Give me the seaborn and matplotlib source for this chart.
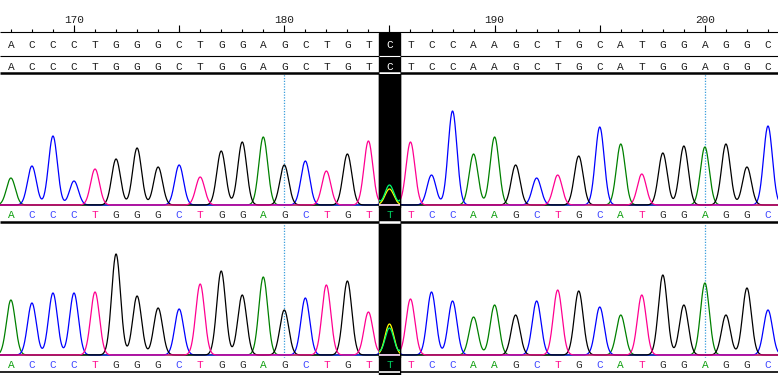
import numpy as np
import pandas as pd
import matplotlib
matplotlib.use('Agg')
import matplotlib.pyplot as plt
from matplotlib.patches import Rectangle
import seaborn as sns

sns.set_style('white')
plt.rcParams['font.family'] = ['Liberation Mono', 'DejaVu Sans Mono']

# ── data ──────────────────────────────────────────────────────────────
positions = list(range(167, 204))
reference = list('ACCCTGGGCTGGAGCTGTCTCCAAGCTGCATGGAGGC')
called = list('ACCCTGGGCTGGAGCTGTTTCCAAGCTGCATGGAGGC')
heights_1 = [27, 39, 69, 24, 36, 46, 57, 38, 40, 28, 54, 63, 68, 40, 44, 34, 51, 64, 20,
             63, 30, 94, 51, 68, 40, 27, 30, 49, 78, 61, 31, 52, 59, 58, 61, 38, 79]
heights_2 = [55, 52, 62, 62, 63, 101, 59, 47, 46, 71, 84, 60, 78, 45, 57, 70, 74, 43, 27,
             56, 63, 54, 38, 50, 40, 54, 65, 64, 48, 40, 60, 80, 50, 72, 40, 67, 45]
# secondary (heterozygous) peak under the highlighted base
minor_pos = [185]
minor_base = ['C']
minor_1 = [16]
minor_2 = [31]
highlight = 185
ruler_labels = [170, 180, 190, 200]
grid_marks = [180, 200]

colors = {'A': '#008000', 'C': '#0000ff', 'G': '#000000', 'T': '#ff0090'}
inverted = {'A': '#ff7fff', 'C': '#ffff00', 'G': '#ffffff', 'T': '#00ff6f'}
label_colors = {'A': '#10a010', 'C': '#4048ff', 'G': '#303030', 'T': '#ff1090'}
SIGMA = 0.21

W, H = 778, 375
XMIN, XMAX = 170 - 74 / 21.03, 170 + 704 / 21.03


def trace_frame(heights, minor):
    xs = np.linspace(XMIN - 0.5, XMAX + 0.5, 3000)
    rows = []
    for b in 'ACGT':
        y = np.zeros_like(xs)
        for p, c, h in zip(positions, called, heights):
            if c == b:
                y += h * np.exp(-0.5 * ((xs - p) / SIGMA) ** 2)
        for p, c, h in zip(minor_pos, minor_base, minor):
            if c == b:
                y += h * np.exp(-0.5 * ((xs - p) / SIGMA) ** 2)
        rows.append(pd.DataFrame({'x': xs, 'y': y, 'base': b}))
    return pd.concat(rows, ignore_index=True)


fig = plt.figure(figsize=(W / 100, H / 100), dpi=100)
fig.patch.set_facecolor('white')

# background axes in pixel rows
bg = fig.add_axes([0, 0, 1, 1])
bg.set_xlim(XMIN, XMAX)
bg.set_ylim(H, 0)
bg.axis('off')

bg.add_patch(Rectangle((highlight - 0.5, 33), 1, H - 33, color='black', zorder=1))

# ruler
ticks = positions
bg.vlines(ticks, 29, 32, color='black', lw=0.8, zorder=2)
bg.vlines([p for p in ticks if p % 5 == 0], 25, 32, color='black', lw=0.8, zorder=2)
for v in ruler_labels:
    bg.text(v, 23, str(v), ha='center', va='baseline', fontsize=8, color='#202020')

# horizontal rules (white where they cross the highlight)
for y, lw in [(32, 0.8), (55.5, 0.8), (72.5, 1.8), (222, 1.8), (372, 1.2)]:
    bg.hlines(y, XMIN, XMAX, color='black', lw=lw, zorder=2)
    if y > 33:
        bg.hlines(y, highlight - 0.5, highlight + 0.5, color='white', lw=lw, zorder=3)

# reference rows
for p, b in zip(positions, reference):
    c = 'white' if p == highlight else '#1e1e1e'
    bg.text(p, 48, b, ha='center', va='baseline', fontsize=8, color=c, zorder=4)
    bg.text(p, 69.5, b, ha='center', va='baseline', fontsize=8, color=c, zorder=4)

# base-call rows under each trace
for p, b in zip(positions, called):
    c = '#00d060' if p == highlight else label_colors[b]
    bg.text(p, 218.5, b, ha='center', va='baseline', fontsize=8, color=c, zorder=4)
    bg.text(p, 368.5, b, ha='center', va='baseline', fontsize=8, color=c, zorder=4)

# trace panels
for heights, minor, base_px in [(heights_1, minor_1, 205), (heights_2, minor_2, 355)]:
    top_px = base_px - 131
    ax = fig.add_axes([0, (H - base_px - 3) / H, 1, 134 / H])
    ax.patch.set_alpha(0)
    df = trace_frame(heights, minor)
    sns.lineplot(data=df, x='x', y='y', hue='base', hue_order=list('ACGT'),
                 palette=colors, estimator=None, sort=False, legend=False,
                 linewidth=0.9, ax=ax)
    for g in grid_marks:
        ax.axvline(g, color='#3a9fdc', lw=0.9, ls=(0, (1, 1.2)), zorder=1.5)
    ax.add_patch(Rectangle((highlight - 0.5, -3), 1, 140, color='black', zorder=3))
    n = len(ax.lines)
    sns.lineplot(data=df, x='x', y='y', hue='base', hue_order=list('ACGT'),
                 palette=inverted, estimator=None, sort=False, legend=False,
                 linewidth=0.9, ax=ax)
    clip = Rectangle((highlight - 0.5, -3), 1, 140, transform=ax.transData)
    for ln in ax.lines[n:]:
        ln.set_zorder(4)
        ln.set_clip_path(clip)
    ax.set_xlim(XMIN, XMAX)
    ax.set_ylim(-3, 131)
    ax.axis('off')

plt.savefig('out.png', dpi=100)
plt.close()
